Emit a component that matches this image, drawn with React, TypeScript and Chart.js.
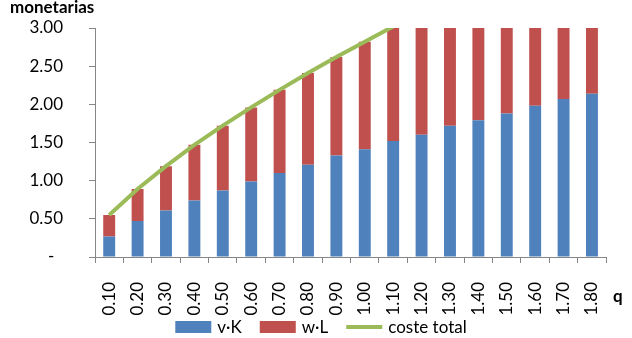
import React, { useEffect, useRef } from 'react';
import { Chart, registerables } from 'chart.js';

Chart.register(...registerables);

// Output levels q and the cost components at each level
const categories = ['0.10', '0.20', '0.30', '0.40', '0.50', '0.60', '0.70', '0.80', '0.90', '1.00', '1.10', '1.20', '1.30', '1.40', '1.50', '1.60', '1.70', '1.80'];
const vK = [0.27, 0.47, 0.61, 0.74, 0.87, 0.99, 1.10, 1.21, 1.33, 1.41, 1.52, 1.60, 1.72, 1.79, 1.88, 1.98, 2.07, 2.14];
const wL = [0.28, 0.42, 0.58, 0.73, 0.85, 0.97, 1.09, 1.20, 1.29, 1.41, 1.50, 1.61, 1.67, 1.78, 1.86, 1.93, 2.01, 2.10];
const costeTotal = [0.55, 0.89, 1.19, 1.47, 1.72, 1.96, 2.19, 2.41, 2.62, 2.82, 3.02, 3.21, 3.39, 3.57, 3.74, 3.91, 4.08, 4.24];

const yMin = 0;
const yMax = 3;
const yStep = 0.5;

const FONT = 'Lato, "Liberation Sans", sans-serif';
const FONT_SIZE = 17;
const AXIS_COLOR = '#868686';
const BLUE = '#4F81BD';
const RED = '#C0504D';
const GREEN = '#9BBB59';

// Axis titles and the legend row drawn on the canvas
const extras = {
  id: 'extras',
  afterDraw(chart: any) {
    const ctx = chart.ctx as CanvasRenderingContext2D;
    ctx.save();
    ctx.fillStyle = '#000';
    ctx.font = `bold ${FONT_SIZE}px ${FONT}`;
    ctx.textAlign = 'left';
    ctx.textBaseline = 'alphabetic';
    ctx.fillText('monetarias', 10, 13);
    ctx.textBaseline = 'middle';
    ctx.fillText('q', 613, 297);

    // legend
    ctx.font = `${FONT_SIZE}px ${FONT}`;
    const boxW = 36;
    const boxH = 12;
    const gapText = 6;
    const gapItem = 18;
    const items = chart.data.datasets.map((d: any) => ({
      label: d.label,
      color: d.type === 'line' ? d.borderColor : d.backgroundColor,
      isLine: d.type === 'line',
    }));
    const widths = items.map((it: any) => boxW + gapText + ctx.measureText(it.label).width);
    const total = widths.reduce((a: number, b: number) => a + b, 0) + gapItem * (items.length - 1);
    let x = 321 - total / 2;
    const cy = 327;
    items.forEach((it: any, i: number) => {
      if (it.isLine) {
        ctx.strokeStyle = it.color;
        ctx.lineWidth = 4;
        ctx.beginPath();
        ctx.moveTo(x, cy);
        ctx.lineTo(x + boxW, cy);
        ctx.stroke();
      } else {
        ctx.fillStyle = it.color;
        ctx.fillRect(x, cy - boxH / 2, boxW, boxH);
      }
      ctx.fillStyle = '#000';
      ctx.fillText(it.label, x + boxW + gapText, cy + 1);
      x += widths[i] + gapItem;
    });
    ctx.restore();
  },
};

export default function App() {
  const canvasRef = useRef<HTMLCanvasElement | null>(null);

  useEffect(() => {
    if (!canvasRef.current) return;
    const chart = new Chart(canvasRef.current, {
      type: 'bar',
      data: {
        labels: categories,
        datasets: [
          {
            type: 'bar',
            label: 'v·K',
            data: vK,
            backgroundColor: BLUE,
            barPercentage: 0.42,
            categoryPercentage: 1,
            stack: 'cost',
            order: 1,
          },
          {
            type: 'bar',
            label: 'w·L',
            data: wL,
            backgroundColor: RED,
            barPercentage: 0.42,
            categoryPercentage: 1,
            stack: 'cost',
            order: 1,
          },
          {
            type: 'line',
            label: 'coste total',
            data: costeTotal,
            borderColor: GREEN,
            backgroundColor: GREEN,
            borderWidth: 4,
            pointRadius: 0,
            tension: 0,
            clip: 0,
            stack: 'total',
            order: 0,
          } as any,
        ],
      },
      options: {
        animation: false,
        responsive: true,
        maintainAspectRatio: false,
        layout: { padding: { top: 28, right: 23, bottom: 0, left: 0 } },
        plugins: {
          legend: { display: false },
          tooltip: { enabled: false },
          title: { display: false },
        },
        scales: {
          x: {
            stacked: true,
            offset: true,
            grid: { drawOnChartArea: false, offset: true, tickLength: 6, color: AXIS_COLOR },
            border: { color: AXIS_COLOR, width: 1 },
            ticks: {
              autoSkip: false,
              minRotation: 90,
              maxRotation: 90,
              padding: 19,
              color: '#000',
              font: { family: FONT, size: FONT_SIZE },
            },
            afterFit: (s: any) => {
              s.height = 338 - 257;
            },
          },
          y: {
            stacked: true,
            min: yMin,
            max: yMax,
            grid: { drawOnChartArea: false, tickLength: 6, color: AXIS_COLOR },
            border: { color: AXIS_COLOR, width: 1 },
            ticks: {
              stepSize: yStep,
              padding: 26,
              color: '#000',
              font: { family: FONT, size: FONT_SIZE },
              callback: (v: any) => (Number(v) === 0 ? '-  ' : Number(v).toFixed(2)),
            },
            afterFit: (s: any) => {
              s.width = 95;
              s.paddingTop = 0;
              s.paddingBottom = 0;
            },
          },
        },
      },
      plugins: [extras],
    });
    return () => chart.destroy();
  }, []);

  return (
    <div style={{ position: 'absolute', left: 0, top: 0, width: 632, height: 338, background: '#fff' }}>
      <canvas ref={canvasRef} />
    </div>
  );
}
